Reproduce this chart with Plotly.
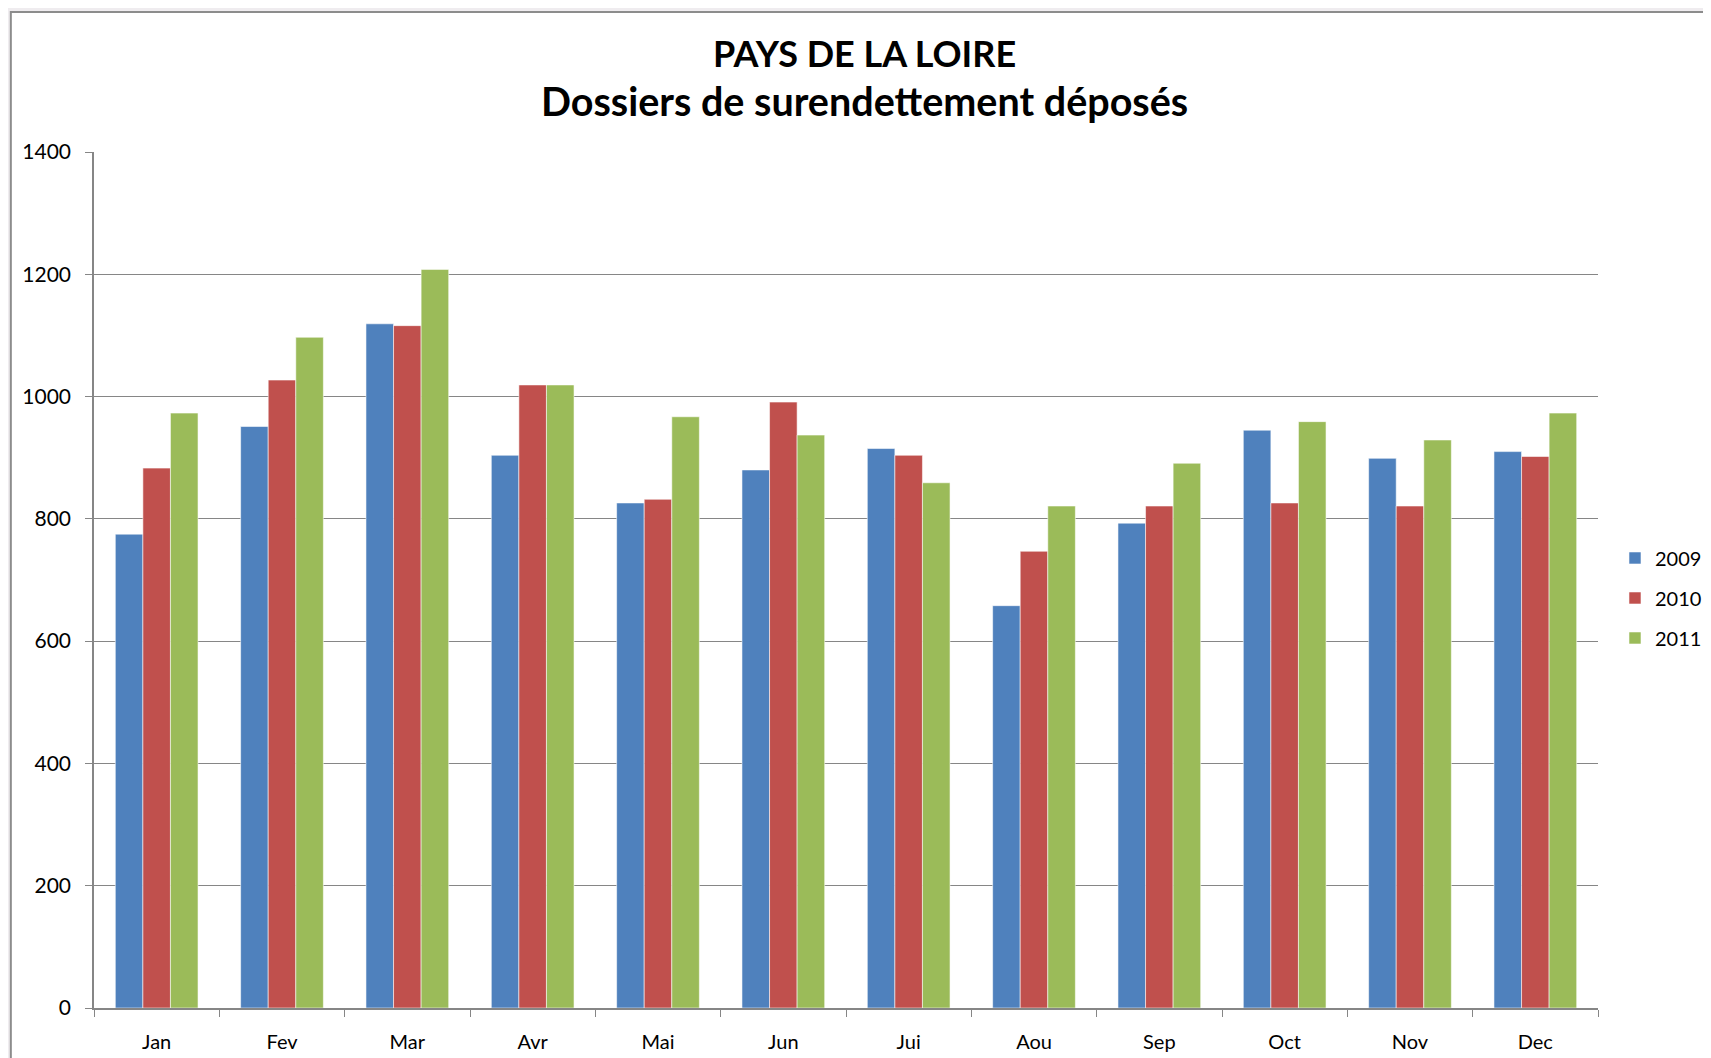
import plotly.graph_objects as go

# mois et valeurs
mois = ["Jan", "Fev", "Mar", "Avr", "Mai", "Jun", "Jui", "Aou", "Sep", "Oct", "Nov", "Dec"]
v2009 = [775, 951, 1119, 904, 826, 880, 915, 658, 793, 945, 899, 910]
v2010 = [883, 1027, 1116, 1019, 832, 991, 904, 747, 821, 826, 821, 902]
v2011 = [973, 1097, 1208, 1019, 967, 937, 859, 821, 891, 959, 929, 973]

series = [("2009", v2009, "#4F81BD"), ("2010", v2010, "#C0504D"), ("2011", v2011, "#9BBB59")]

police = "Lato, 'Open Sans', sans-serif"
gris = "#868686"

fig = go.Figure()
for nom, vals, couleur in series:
    fig.add_trace(go.Bar(
        x=mois, y=vals, name=nom, legendgroup=nom,
        marker=dict(color=couleur, line=dict(color="rgba(255,255,255,0.55)", width=1)),
    ))

# cadre blanc du graphique (comme dans Excel)
fig.add_shape(type="rect", xref="paper", yref="paper",
              x0=-0.0553, x1=1.2, y0=-0.2, y1=1.1636,
              fillcolor="white", line=dict(color="#8C8C8C", width=2), layer="below")

# titre sur deux lignes
fig.add_annotation(text="<b>PAYS DE LA LOIRE</b>", xref="paper", yref="paper",
                   x=0.5125, y=1.1157, xanchor="center", yanchor="middle", showarrow=False,
                   font=dict(family=police, size=36, color="black"))
fig.add_annotation(text="<b>Dossiers de surendettement déposés</b>", xref="paper", yref="paper",
                   x=0.5125, y=1.0596, xanchor="center", yanchor="middle", showarrow=False,
                   font=dict(family=police, size=39.5, color="black"))

fig.update_layout(
    width=1711, height=1058,
    margin=dict(l=86, r=83, t=144, b=58),
    paper_bgcolor="#EFECEF",
    plot_bgcolor="white",
    barmode="group",
    bargap=0.34,
    bargroupgap=0,
    font=dict(family=police, size=20, color="black"),
    legend=dict(
        x=1.0113, xanchor="left", y=0.479, yanchor="middle",
        font=dict(size=20), bgcolor="rgba(0,0,0,0)",
        tracegroupgap=11,
    ),
    showlegend=True,
)

fig.update_yaxes(
    range=[0, 1400], dtick=200,
    showgrid=True, gridcolor=gris, gridwidth=1,
    showline=True, linecolor=gris, linewidth=1.5,
    ticks="outside", ticklen=7, tickcolor=gris,
    zeroline=False, tickfont=dict(size=21), ticklabelstandoff=10,
)
fig.update_xaxes(
    showline=True, linecolor=gris, linewidth=1.5,
    ticks="outside", ticklen=7, tickcolor=gris, tickson="boundaries",
    showgrid=False, tickfont=dict(size=20), ticklabelstandoff=15,
)

fig.write_html("out.html")
